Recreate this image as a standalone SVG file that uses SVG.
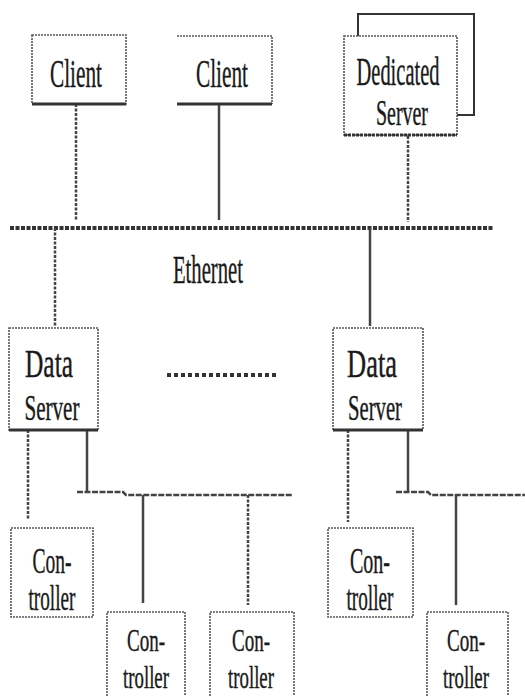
<svg xmlns="http://www.w3.org/2000/svg" width="525" height="696" viewBox="0 0 525 696">
<style>
.box{fill:#fff;stroke:#555;stroke-width:1.6;stroke-dasharray:2 1}
.edge{stroke:#333;stroke-width:3;fill:none}
.t{font-family:"Liberation Serif","Times New Roman",serif;font-size:40px;fill:#1a1a1a;stroke:#1a1a1a;stroke-width:0.4;text-anchor:middle}
.s{font-size:36px}
.b{font-size:32px}
.ln{stroke:#444;stroke-width:2.5;fill:none}
.dl{stroke:#444;stroke-width:2.5;fill:none;stroke-dasharray:3 1.5}
.bus{stroke:#333;stroke-width:4;fill:none;stroke-dasharray:4 1.5}
</style>
<rect width="525" height="696" fill="#fff"/>
<g id="connectors">
<line class="dl" x1="76" y1="104" x2="76" y2="220"/>
<line class="ln" x1="219" y1="104" x2="219" y2="220"/>
<line class="dl" x1="408" y1="136" x2="408" y2="222"/>
<line class="bus" x1="10" y1="228" x2="493" y2="228"/>
<line class="dl" x1="55" y1="228" x2="55" y2="326"/>
<line class="ln" x1="370" y1="228" x2="370" y2="326"/>
<line class="dl" x1="28" y1="430" x2="28" y2="520"/>
<line class="ln" x1="87" y1="430" x2="87" y2="492"/>
<path class="ln" d="M77 492 H123 L126 495 H293" stroke-dasharray="6 1.5"/>
<line class="ln" x1="143" y1="495" x2="143" y2="603"/>
<line class="dl" x1="248" y1="495" x2="248" y2="605"/>
<line class="dl" x1="348" y1="430" x2="348" y2="522"/>
<line class="ln" x1="408" y1="430" x2="408" y2="492"/>
<path class="ln" d="M396 492 H428 L431 495 H525" stroke-dasharray="6 1.5"/>
<line class="ln" x1="456" y1="495" x2="456" y2="605"/>
<line x1="167" y1="375" x2="277" y2="375" stroke="#333" stroke-width="4" stroke-dasharray="4 3"/>
</g>
<g id="client1">
<rect class="box" x="32" y="35" width="94" height="69"/>
<line class="edge" x1="32" y1="104" x2="126" y2="104"/>
<text class="t" x="76" y="87" textLength="52" lengthAdjust="spacingAndGlyphs">Client</text>
</g>
<g id="client2">
<path class="box" d="M177 36 H272 V104"/>
<line class="edge" x1="177" y1="104" x2="272" y2="104"/>
<text class="t" x="222" y="87" textLength="52" lengthAdjust="spacingAndGlyphs">Client</text>
</g>
<g id="dedicated-server">
<rect x="358" y="14" width="116" height="101" fill="#fff" stroke="#333" stroke-width="2"/>
<rect class="box" x="344" y="36" width="113" height="99"/>
<line class="edge" x1="344" y1="135" x2="457" y2="135" stroke-dasharray="3 1"/>
<text class="t" x="398" y="85" textLength="83" lengthAdjust="spacingAndGlyphs">Dedicated</text>
<text class="t s" x="402" y="125" textLength="52" lengthAdjust="spacingAndGlyphs">Server</text>
</g>
<g id="ethernet-label">
<text class="t" x="208" y="283" textLength="70" lengthAdjust="spacingAndGlyphs">Ethernet</text>
</g>
<g id="data-server1">
<rect class="box" x="9" y="328" width="89" height="102"/>
<line class="edge" x1="9" y1="430" x2="98" y2="430"/>
<text class="t" x="49" y="377" textLength="48" lengthAdjust="spacingAndGlyphs">Data</text>
<text class="t s" x="52" y="420" textLength="55" lengthAdjust="spacingAndGlyphs">Server</text>
</g>
<g id="data-server2">
<rect class="box" x="333" y="328" width="90" height="102"/>
<line class="edge" x1="333" y1="430" x2="423" y2="430"/>
<text class="t" x="372" y="377" textLength="50" lengthAdjust="spacingAndGlyphs">Data</text>
<text class="t s" x="375" y="420" textLength="54" lengthAdjust="spacingAndGlyphs">Server</text>
</g>
<g id="controller1">
<rect class="box" x="11" y="528" width="82" height="89"/>
<text class="t s" x="52" y="573" textLength="39" lengthAdjust="spacingAndGlyphs">Con-</text>
<text class="t s" x="52" y="610" textLength="47" lengthAdjust="spacingAndGlyphs">troller</text>
</g>
<g id="controller2">
<rect class="box" x="107" y="612" width="78" height="90"/>
<text class="t b" x="146" y="651" textLength="38" lengthAdjust="spacingAndGlyphs">Con-</text>
<text class="t b" x="146" y="688" textLength="46" lengthAdjust="spacingAndGlyphs">troller</text>
</g>
<g id="controller3">
<rect class="box" x="210" y="612" width="84" height="90"/>
<text class="t b" x="251" y="651" textLength="38" lengthAdjust="spacingAndGlyphs">Con-</text>
<text class="t b" x="251" y="688" textLength="46" lengthAdjust="spacingAndGlyphs">troller</text>
</g>
<g id="controller4">
<rect class="box" x="328" y="528" width="85" height="89"/>
<text class="t s" x="370" y="573" textLength="40" lengthAdjust="spacingAndGlyphs">Con-</text>
<text class="t s" x="370" y="610" textLength="47" lengthAdjust="spacingAndGlyphs">troller</text>
</g>
<g id="controller5">
<rect class="box" x="427" y="612" width="81" height="90"/>
<text class="t b" x="466" y="651" textLength="38" lengthAdjust="spacingAndGlyphs">Con-</text>
<text class="t b" x="466" y="688" textLength="46" lengthAdjust="spacingAndGlyphs">troller</text>
</g>
</svg>
